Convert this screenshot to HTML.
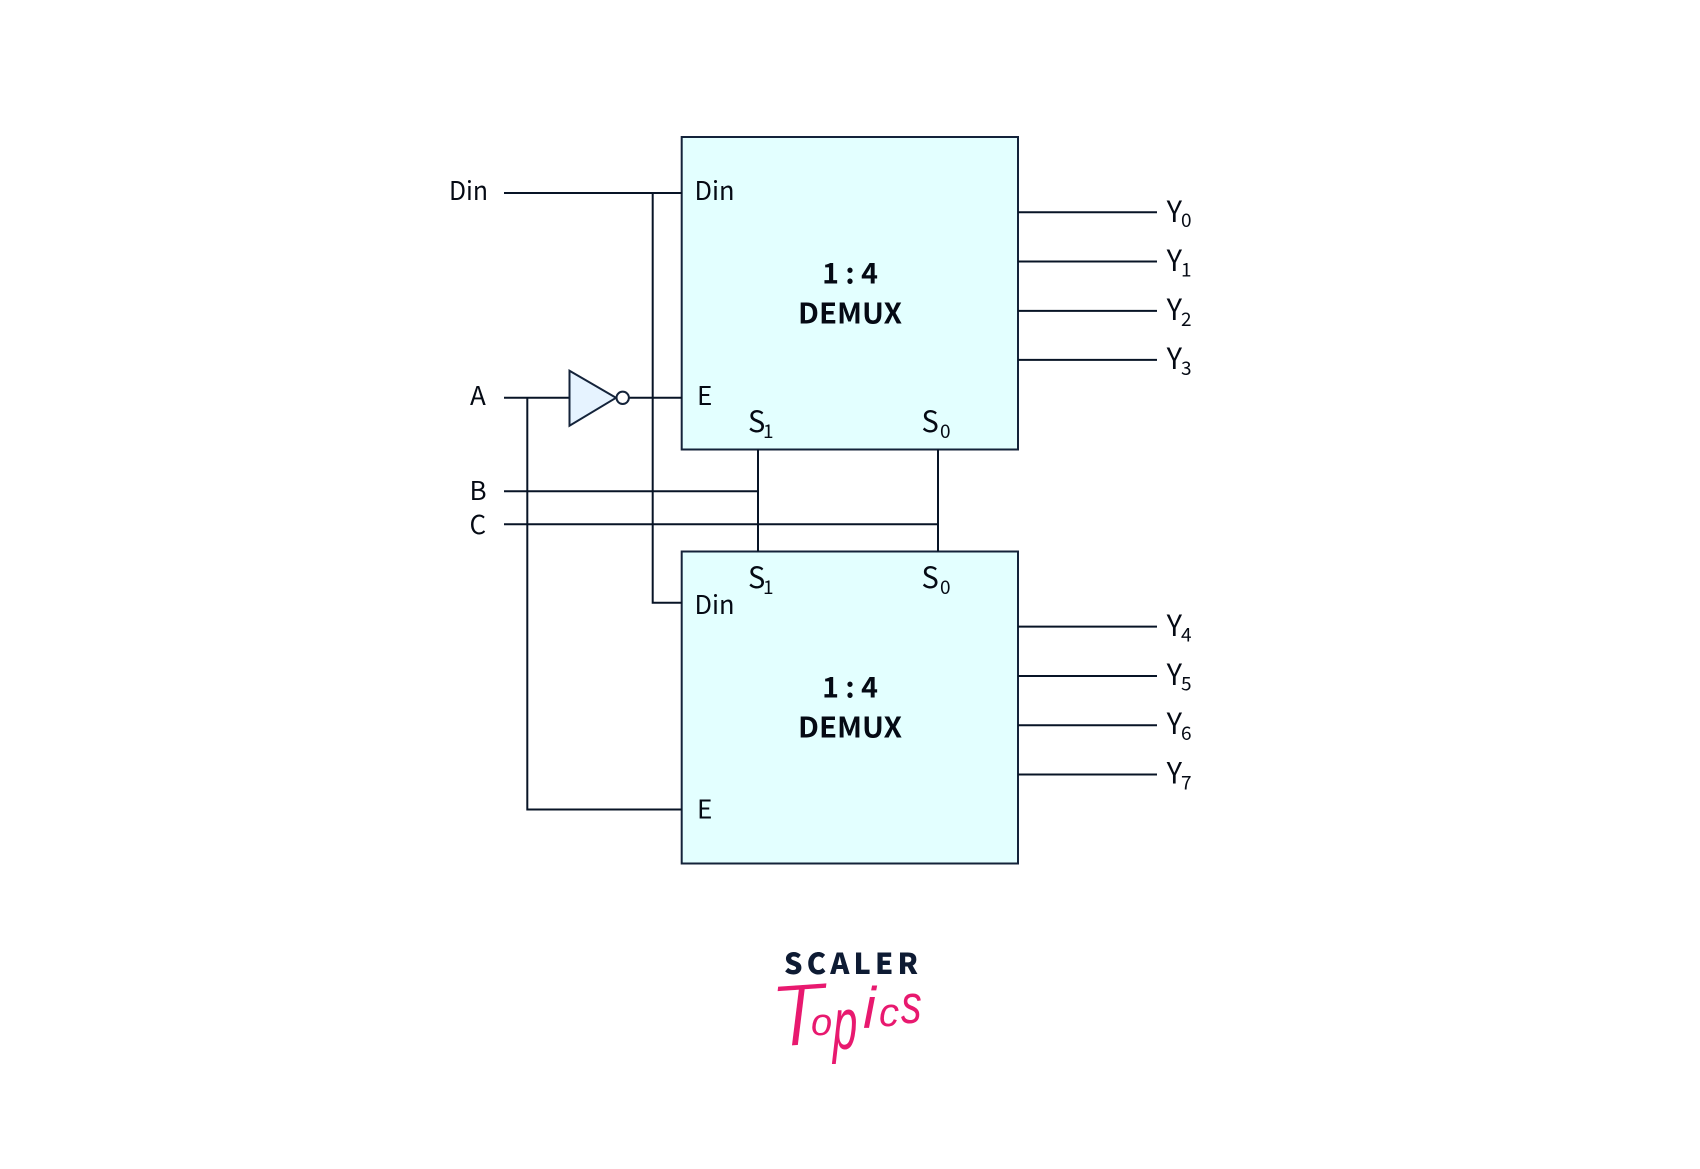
<!DOCTYPE html>
<html><head><meta charset="utf-8"><style>
html,body{margin:0;padding:0;background:#fff;width:1700px;height:1169px;overflow:hidden}
svg{display:block}
text{font-family:"Noto Sans CJK JP","Liberation Sans",sans-serif;fill:#050a14}
.l{font-size:26px}.s{font-size:19px}.big{font-size:29px}
.b{font-size:28.5px;font-weight:700;text-anchor:middle}
.t{font-family:"Liberation Sans",sans-serif;font-style:italic;fill:#e8196f}
.thin{stroke:#fff;stroke-width:2.4;paint-order:fill stroke}
</style></head><body>
<svg width="1700" height="1169" viewBox="0 0 1700 1169" xmlns="http://www.w3.org/2000/svg">
<rect width="1700" height="1169" fill="#fff"/>
<g fill="#e3ffff" stroke="#14233a" stroke-width="2">
<rect x="681.7" y="137" width="336.3" height="312.5"/>
<rect x="681.7" y="551.5" width="336.3" height="312"/>
</g>
<g fill="none" stroke="#081426" stroke-width="2">
<path d="M504 193H682M652.7 193V602.7H682"/>
<path d="M504 397.8H569.5M629 397.8H682"/>
<path d="M527.3 397.8V809.5H682"/>
<path d="M504 491.2H758M504 524.3H938"/>
<path d="M758 449.5V551.5M938 449.5V551.5"/>
<path d="M1018 212.2H1157M1018 261.5H1157M1018 310.9H1157M1018 359.9H1157"/>
<path d="M1018 626.6H1157M1018 676H1157M1018 725.2H1157M1018 774.5H1157"/>
</g>
<path d="M569.5 370.7V425.7L616 397.8Z" fill="#e6f3ff" stroke="#14233a" stroke-width="2"/>
<circle cx="622.7" cy="397.8" r="6.2" fill="#fff" stroke="#14233a" stroke-width="2"/>

<text class="l" x="449" y="200" textLength="39" lengthAdjust="spacingAndGlyphs">Din</text>
<text class="l" x="694.5" y="200" textLength="40" lengthAdjust="spacingAndGlyphs">Din</text>
<text class="l" x="470" y="405">A</text>
<text class="l" x="697" y="405">E</text>
<text class="l" x="469.5" y="500">B</text>
<text class="l" x="469.5" y="534">C</text>
<text class="l" x="694.5" y="614" textLength="40" lengthAdjust="spacingAndGlyphs">Din</text>
<text class="l" x="697" y="818.5">E</text>

<text class="big" x="748" y="432">S</text><text class="s" x="763" y="438">1</text>
<text class="big" x="921.5" y="432">S</text><text class="s" x="940" y="438">0</text>
<text class="big" x="748" y="588">S</text><text class="s" x="763" y="594">1</text>
<text class="big" x="921.5" y="588">S</text><text class="s" x="940" y="594">0</text>

<text class="b" x="850" y="283.3" xml:space="preserve">1 : 4</text>
<text class="b" x="850" y="323.3" textLength="104" lengthAdjust="spacingAndGlyphs">DEMUX</text>
<text class="b" x="850" y="697.3" xml:space="preserve">1 : 4</text>
<text class="b" x="850" y="737.3" textLength="104" lengthAdjust="spacingAndGlyphs">DEMUX</text>

<text class="big" x="1166.6" y="222">Y</text><text class="s" x="1181" y="227">0</text>
<text class="big" x="1166.6" y="271">Y</text><text class="s" x="1181" y="276.5">1</text>
<text class="big" x="1166.6" y="320">Y</text><text class="s" x="1181" y="326">2</text>
<text class="big" x="1166.6" y="369">Y</text><text class="s" x="1181" y="375">3</text>
<text class="big" x="1166.6" y="636">Y</text><text class="s" x="1181" y="641.5">4</text>
<text class="big" x="1166.6" y="685">Y</text><text class="s" x="1181" y="690.5">5</text>
<text class="big" x="1166.6" y="734">Y</text><text class="s" x="1181" y="740">6</text>
<text class="big" x="1166.6" y="783.5">Y</text><text class="s" x="1181" y="789.5">7</text>

<text x="784" y="974" textLength="134" lengthAdjust="spacing" style="font-size:29px;font-weight:900;fill:#0e1b33">SCALER</text>
<text class="t thin" font-size="90" transform="translate(772,1048) rotate(-4)">T</text>
<text class="t" x="811" y="1035" font-size="38">o</text>
<text class="t" font-size="73" transform="translate(833,1049) scale(.6,1)">p</text>
<text class="t" x="863" y="1028" font-size="58">i</text>
<text class="t" x="879" y="1026" font-size="40">c</text>
<text class="t" font-size="55" transform="translate(901,1023) scale(.75,1)">s</text>
</svg>
</body></html>
